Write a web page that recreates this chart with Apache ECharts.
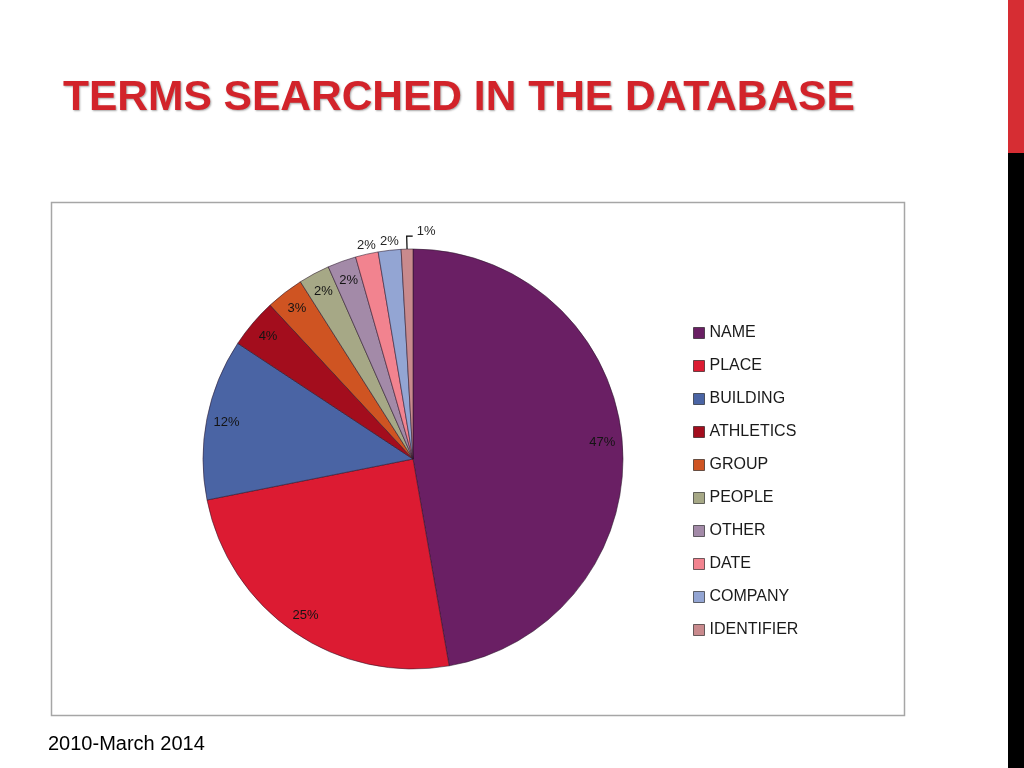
<!DOCTYPE html>
<html>
<head>
<meta charset="utf-8">
<script src="https://cdn.jsdelivr.net/npm/echarts@6/dist/echarts.min.js"></script>
<style>
  html, body { margin: 0; padding: 0; background: #fff; }
  #chart { width: 1024px; height: 768px; }
</style>
</head>
<body>
<div id="chart"></div>
<script>
// search terms, 2010 - March 2014 (share)
var terms = ['NAME', 'PLACE', 'BUILDING', 'ATHLETICS', 'GROUP', 'PEOPLE', 'OTHER', 'DATE', 'COMPANY', 'IDENTIFIER'];
var shares = [47.2, 24.6, 12.4, 3.8, 2.9, 2.4, 2.2, 1.75, 1.75, 0.9];
var colors = ['#6a1f64', '#dc1b32', '#4a64a4', '#a30d1d', '#cf5422', '#a6a886', '#a38aa8', '#f2838f', '#93a5d3', '#c98a8d'];
// slices whose label sits outside the pie
var outsideLabels = ['DATE', 'COMPANY', 'IDENTIFIER'];

var myChart = echarts.init(document.getElementById('chart'));

var mainData = terms.map(function (name, i) {
    var outside = outsideLabels.indexOf(name) >= 0;
    return {
        name: name,
        value: shares[i],
        itemStyle: { color: colors[i] },
        label: { show: outside },
        labelLine: {
            show: outside,
            lineStyle: { opacity: name === 'IDENTIFIER' ? 1 : 0 }
        }
    };
});

var labelData = terms.map(function (name, i) {
    return {
        name: name,
        value: shares[i],
        label: { show: outsideLabels.indexOf(name) < 0 }
    };
});

var option = {
    animation: false,
    title: {
        text: 'TERMS SEARCHED IN THE DATABASE',
        left: 58,
        top: 72,
        textStyle: {
            fontFamily: 'Liberation Sans',
            fontWeight: 'bold',
            fontSize: 42.5,
            color: '#d2232a',
            textShadowColor: 'rgba(0, 0, 0, 0.35)',
            textShadowBlur: 2,
            textShadowOffsetX: 1,
            textShadowOffsetY: 1
        }
    },
    legend: {
        orient: 'vertical',
        left: 693,
        top: 325,
        padding: 0,
        data: terms,
        icon: 'rect',
        itemWidth: 11,
        itemHeight: 11,
        itemGap: 17,
        selectedMode: false,
        itemStyle: { borderColor: 'rgba(0, 0, 0, 0.55)', borderWidth: 1 },
        textStyle: {
            fontFamily: 'Liberation Sans',
            fontSize: 16,
            lineHeight: 16,
            color: '#1a1a1a'
        }
    },
    graphic: [
        {
            type: 'rect',
            shape: { x: 51.5, y: 202.5, width: 853, height: 513 },
            style: { fill: 'none', stroke: '#a6a6a6', lineWidth: 1.5 }
        },
        {
            type: 'rect',
            shape: { x: 1008, y: 0, width: 16, height: 153 },
            style: { fill: '#d62d33' }
        },
        {
            type: 'rect',
            shape: { x: 1008, y: 153, width: 16, height: 615 },
            style: { fill: '#000' }
        },
        {
            type: 'text',
            left: 48,
            top: 734,
            style: {
                text: '2010-March 2014',
                fontFamily: 'Liberation Sans',
                fontSize: 20,
                fill: '#000'
            }
        }
    ],
    series: [
        {
            name: 'Terms',
            type: 'pie',
            center: [413, 459],
            radius: [0, 210],
            startAngle: 90,
            clockwise: true,
            avoidLabelOverlap: false,
            percentPrecision: 0,
            silent: true,
            data: mainData,
            itemStyle: {
                borderColor: 'rgba(40, 20, 40, 0.55)',
                borderWidth: 1
            },
            label: {
                position: 'outside',
                formatter: '{d}%',
                fontFamily: 'Liberation Sans',
                fontSize: 13,
                color: '#262626'
            },
            labelLine: {
                length: 13,
                length2: 6,
                lineStyle: { color: '#000', width: 1.2 }
            },
            labelLayout: function (params) {
                var pts = params.labelLinePoints;
                if (!pts) {
                    return {};
                }
                var p1 = pts[1];
                if (terms[params.dataIndex] === 'IDENTIFIER') {
                    return {
                        x: p1[0] + 10,
                        y: p1[1] + 2,
                        align: 'left',
                        verticalAlign: 'bottom',
                        labelLinePoints: [pts[0], p1, [p1[0] + 6, p1[1]]]
                    };
                }
                return {
                    x: pts[0][0] + (p1[0] - pts[0][0]) * 0.15,
                    y: pts[0][1] + (p1[1] - pts[0][1]) * 0.15,
                    align: 'center',
                    verticalAlign: 'bottom'
                };
            }
        },
        {
            // label ring: puts the inside labels near the rim
            name: 'Labels',
            type: 'pie',
            center: [413, 459],
            radius: [177, 197],
            startAngle: 90,
            clockwise: true,
            avoidLabelOverlap: false,
            percentPrecision: 0,
            silent: true,
            data: labelData,
            itemStyle: { color: 'rgba(0, 0, 0, 0)' },
            labelLine: { show: false },
            label: {
                position: 'inside',
                rotate: 0,
                formatter: '{d}%',
                fontFamily: 'Liberation Sans',
                fontSize: 13,
                color: '#141414',
                textBorderWidth: 0
            }
        }
    ]
};

myChart.setOption(option);
</script>
</body>
</html>
